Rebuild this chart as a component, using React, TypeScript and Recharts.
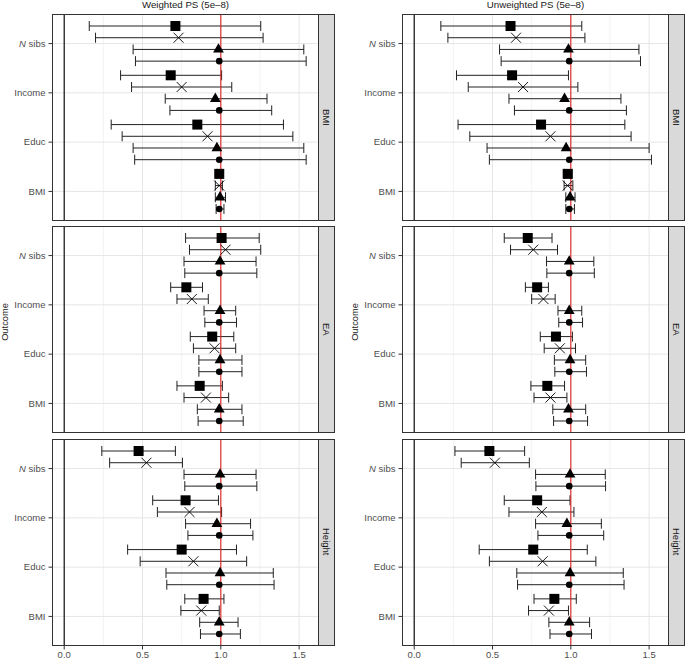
import React from "react";
import { ScatterChart, Scatter, XAxis, YAxis, ErrorBar, ReferenceLine } from "recharts";

const outcomes = ["N sibs", "Income", "Educ", "BMI"];
const exposures = ["BMI", "EA", "Height"];
const columnTitles = ["Weighted PS (5e–8)", "Unweighted PS (5e–8)"];
const xTicks = [0, 0.5, 1, 1.5];
const xMinorTicks = [0.25, 0.75, 1.25];
const yTicks = [4, 3, 2, 1];

// rows: square, cross, triangle, circle — columns: N sibs, Income, Educ, BMI
const wBmiEst = [
  [0.71, 0.68, 0.85, 0.99],
  [0.73, 0.75, 0.915, 0.99],
  [0.985, 0.965, 0.975, 0.995],
  [0.99, 0.99, 0.99, 0.99],
];
const wBmiLo = [
  [0.16, 0.36, 0.3, 0.975],
  [0.2, 0.43, 0.37, 0.965],
  [0.44, 0.645, 0.44, 0.965],
  [0.455, 0.675, 0.45, 0.97],
];
const wBmiHi = [
  [1.255, 1.005, 1.4, 1.005],
  [1.27, 1.07, 1.46, 1.01],
  [1.53, 1.295, 1.53, 1.03],
  [1.545, 1.325, 1.545, 1.02],
];

const wEaEst = [
  [1.005, 0.78, 0.945, 0.865],
  [1.03, 0.815, 0.96, 0.905],
  [0.995, 0.995, 0.995, 0.99],
  [0.99, 0.99, 0.99, 0.99],
];
const wEaLo = [
  [0.775, 0.68, 0.805, 0.72],
  [0.8, 0.72, 0.825, 0.765],
  [0.765, 0.893, 0.86, 0.85],
  [0.77, 0.898, 0.86, 0.855],
];
const wEaHi = [
  [1.245, 0.883, 1.083, 1.01],
  [1.255, 0.92, 1.095, 1.05],
  [1.225, 1.095, 1.135, 1.135],
  [1.23, 1.1, 1.135, 1.143],
];

const wHeightEst = [
  [0.475, 0.775, 0.75, 0.89],
  [0.525, 0.8, 0.825, 0.875],
  [0.995, 0.975, 0.995, 0.99],
  [0.99, 0.99, 0.99, 0.99],
];
const wHeightLo = [
  [0.24, 0.565, 0.405, 0.77],
  [0.29, 0.595, 0.485, 0.745],
  [0.765, 0.775, 0.65, 0.865],
  [0.77, 0.79, 0.655, 0.87],
];
const wHeightHi = [
  [0.71, 0.985, 1.1, 1.02],
  [0.755, 1.005, 1.165, 0.99],
  [1.225, 1.19, 1.335, 1.11],
  [1.23, 1.205, 1.34, 1.125],
];

const uBmiEst = [
  [0.615, 0.625, 0.81, 0.98],
  [0.65, 0.695, 0.87, 0.98],
  [0.985, 0.96, 0.97, 0.995],
  [0.99, 0.99, 0.99, 0.99],
];
const uBmiLo = [
  [0.17, 0.27, 0.28, 0.96],
  [0.215, 0.345, 0.355, 0.957],
  [0.545, 0.605, 0.465, 0.968],
  [0.555, 0.64, 0.48, 0.968],
];
const uBmiHi = [
  [1.07, 0.985, 1.345, 1.008],
  [1.09, 1.045, 1.385, 1.013],
  [1.435, 1.32, 1.5, 1.027],
  [1.445, 1.355, 1.515, 1.023],
];

const uEaEst = [
  [0.725, 0.785, 0.905, 0.85],
  [0.76, 0.825, 0.93, 0.87],
  [0.99, 0.99, 0.995, 0.985],
  [0.99, 0.99, 0.99, 0.99],
];
const uEaLo = [
  [0.575, 0.71, 0.805, 0.745],
  [0.615, 0.75, 0.83, 0.765],
  [0.845, 0.918, 0.895, 0.885],
  [0.847, 0.923, 0.898, 0.89],
];
const uEaHi = [
  [0.88, 0.857, 1.01, 0.96],
  [0.915, 0.9, 1.03, 0.975],
  [1.147, 1.07, 1.095, 1.095],
  [1.15, 1.075, 1.1, 1.107],
];

const uHeightEst = [
  [0.48, 0.785, 0.76, 0.895],
  [0.515, 0.815, 0.82, 0.86],
  [0.995, 0.975, 0.995, 0.99],
  [0.99, 0.99, 0.99, 0.99],
];
const uHeightLo = [
  [0.26, 0.575, 0.415, 0.765],
  [0.3, 0.605, 0.48, 0.73],
  [0.775, 0.775, 0.655, 0.86],
  [0.777, 0.79, 0.66, 0.867],
];
const uHeightHi = [
  [0.705, 0.995, 1.105, 1.035],
  [0.735, 1.02, 1.16, 0.985],
  [1.22, 1.195, 1.335, 1.12],
  [1.222, 1.21, 1.34, 1.132],
];

const panelData = [
  [
    [wBmiEst, wBmiLo, wBmiHi],
    [wEaEst, wEaLo, wEaHi],
    [wHeightEst, wHeightLo, wHeightHi],
  ],
  [
    [uBmiEst, uBmiLo, uBmiHi],
    [uEaEst, uEaLo, uEaHi],
    [uHeightEst, uHeightLo, uHeightHi],
  ],
];

const DODGE = 0.95 / 4;
const COL_OFFSET = 350;
const PANEL_TOPS = [14, 226, 438.5];
const PANEL_H = 207;
const AXIS_W = 52;
const PLOT_W = 267;
const GREY_TEXT = "#4d4d4d";
const FONT = '"Liberation Sans", Arial, Helvetica, sans-serif';

function buildSeries(est: number[][], lo: number[][], hi: number[][]) {
  return est.map((row, m) =>
    row.map((v, o) => ({
      x: v,
      y: 4 - o + (1.5 - m) * DODGE,
      err: [v - lo[m][o], hi[m][o] - v],
      outcome: outcomes[o],
    }))
  );
}

const SquareShape = (p: any) => (
  <rect x={p.cx - 5} y={p.cy - 5} width={10} height={10} fill="#000" />
);
const CrossShape = (p: any) => (
  <path
    d={`M${p.cx - 5},${p.cy - 5}L${p.cx + 5},${p.cy + 5}M${p.cx - 5},${p.cy + 5}L${p.cx + 5},${p.cy - 5}`}
    stroke="#000"
    strokeWidth={0.9}
    fill="none"
  />
);
const TriangleShape = (p: any) => (
  <path
    d={`M${p.cx},${p.cy - 6.2}L${p.cx + 5.4},${p.cy + 3.2}L${p.cx - 5.4},${p.cy + 3.2}Z`}
    fill="#000"
  />
);
const DotShape = (p: any) => <circle cx={p.cx} cy={p.cy} r={3.3} fill="#000" />;
const shapes = [SquareShape, CrossShape, TriangleShape, DotShape];

function OutcomeTick(props: any) {
  const { x, y, payload } = props;
  const label = outcomes[4 - payload.value];
  return (
    <text x={x} y={y} dy="0.35em" textAnchor="end" fill={GREY_TEXT} fontSize={9.5}>
      {label === "N sibs" ? (
        <>
          <tspan fontStyle="italic">N</tspan>
          <tspan> sibs</tspan>
        </>
      ) : (
        label
      )}
    </text>
  );
}

function Panel({ col, row }: { col: number; row: number }) {
  const [est, lo, hi] = panelData[col][row];
  const series = buildSeries(est, lo, hi);
  const last = row === 2;
  return (
    <div style={{ position: "absolute", left: col * COL_OFFSET, top: PANEL_TOPS[row] }}>
      <ScatterChart
        width={AXIS_W + PLOT_W}
        height={PANEL_H + (last ? 15 : 0)}
        margin={{ top: 0, right: 0, bottom: 0, left: 0 }}
      >
        <XAxis
          type="number"
          dataKey="x"
          domain={[-0.078, 1.627]}
          allowDataOverflow
          ticks={xTicks}
          hide={!last}
          height={15}
          axisLine={false}
          tickSize={3.5}
          tickMargin={2}
          tickLine={{ stroke: "#333" }}
          tick={{ fill: GREY_TEXT, fontSize: 9.5 }}
          tickFormatter={(v: number) => v.toFixed(1)}
        />
        <YAxis
          type="number"
          dataKey="y"
          domain={[0.4, 4.6]}
          allowDataOverflow
          ticks={yTicks}
          width={AXIS_W}
          axisLine={false}
          tickSize={3.5}
          tickMargin={3}
          tickLine={{ stroke: "#333" }}
          tick={<OutcomeTick />}
        />
        {xMinorTicks.map((v) => (
          <ReferenceLine key={"mx" + v} x={v} stroke="#ebebeb" strokeWidth={0.6} />
        ))}
        {xTicks.map((v) => (
          <ReferenceLine key={"x" + v} x={v} stroke="#e6e6e6" strokeWidth={1} />
        ))}
        {yTicks.map((v) => (
          <ReferenceLine key={"y" + v} y={v} stroke="#e6e6e6" strokeWidth={1} />
        ))}
        <ReferenceLine x={0} stroke="#111" strokeWidth={1.2} />
        {series.map((pts, m) => (
          <Scatter key={m} data={pts} shape={shapes[m]} isAnimationActive={false}>
            <ErrorBar dataKey="err" direction="x" width={5} stroke="#222" strokeWidth={1} />
          </Scatter>
        ))}
        <ReferenceLine x={1} stroke="#e0201f" strokeWidth={1.1} />
      </ScatterChart>
      <div
        style={{
          position: "absolute",
          left: AXIS_W,
          top: 0,
          width: PLOT_W,
          height: PANEL_H,
          border: "1px solid #333",
          boxSizing: "border-box",
          pointerEvents: "none",
        }}
      />
      <div
        style={{
          position: "absolute",
          left: AXIS_W + PLOT_W - 1,
          top: 0,
          width: 17,
          height: PANEL_H,
          background: "#d9d9d9",
          border: "1px solid #333",
          boxSizing: "border-box",
          display: "flex",
          alignItems: "center",
          justifyContent: "center",
        }}
      >
        <span style={{ writingMode: "vertical-rl", fontSize: 9.5, color: "#1a1a1a" }}>
          {exposures[row]}
        </span>
      </div>
    </div>
  );
}

export default function App() {
  return (
    <div
      style={{
        position: "absolute",
        left: 0,
        top: 0,
        width: 685,
        height: 660,
        background: "#fff",
        fontFamily: FONT,
        overflow: "hidden",
      }}
    >
      <svg width={685} height={660} style={{ position: "absolute", left: 0, top: 0 }}>
        {columnTitles.map((t, c) => (
          <text
            key={t}
            x={c * COL_OFFSET + AXIS_W + PLOT_W / 2}
            y={8}
            textAnchor="middle"
            fontSize={9.7}
            fill="#1a1a1a"
          >
            {t}
          </text>
        ))}
        {columnTitles.map((t, c) => (
          <text
            key={"o" + t}
            transform={`translate(${c * COL_OFFSET + 8},322) rotate(-90)`}
            textAnchor="middle"
            fontSize={9.3}
            fill="#1a1a1a"
          >
            Outcome
          </text>
        ))}
      </svg>
      {[0, 1].map((c) => [0, 1, 2].map((r) => <Panel key={c + "-" + r} col={c} row={r} />))}
    </div>
  );
}
